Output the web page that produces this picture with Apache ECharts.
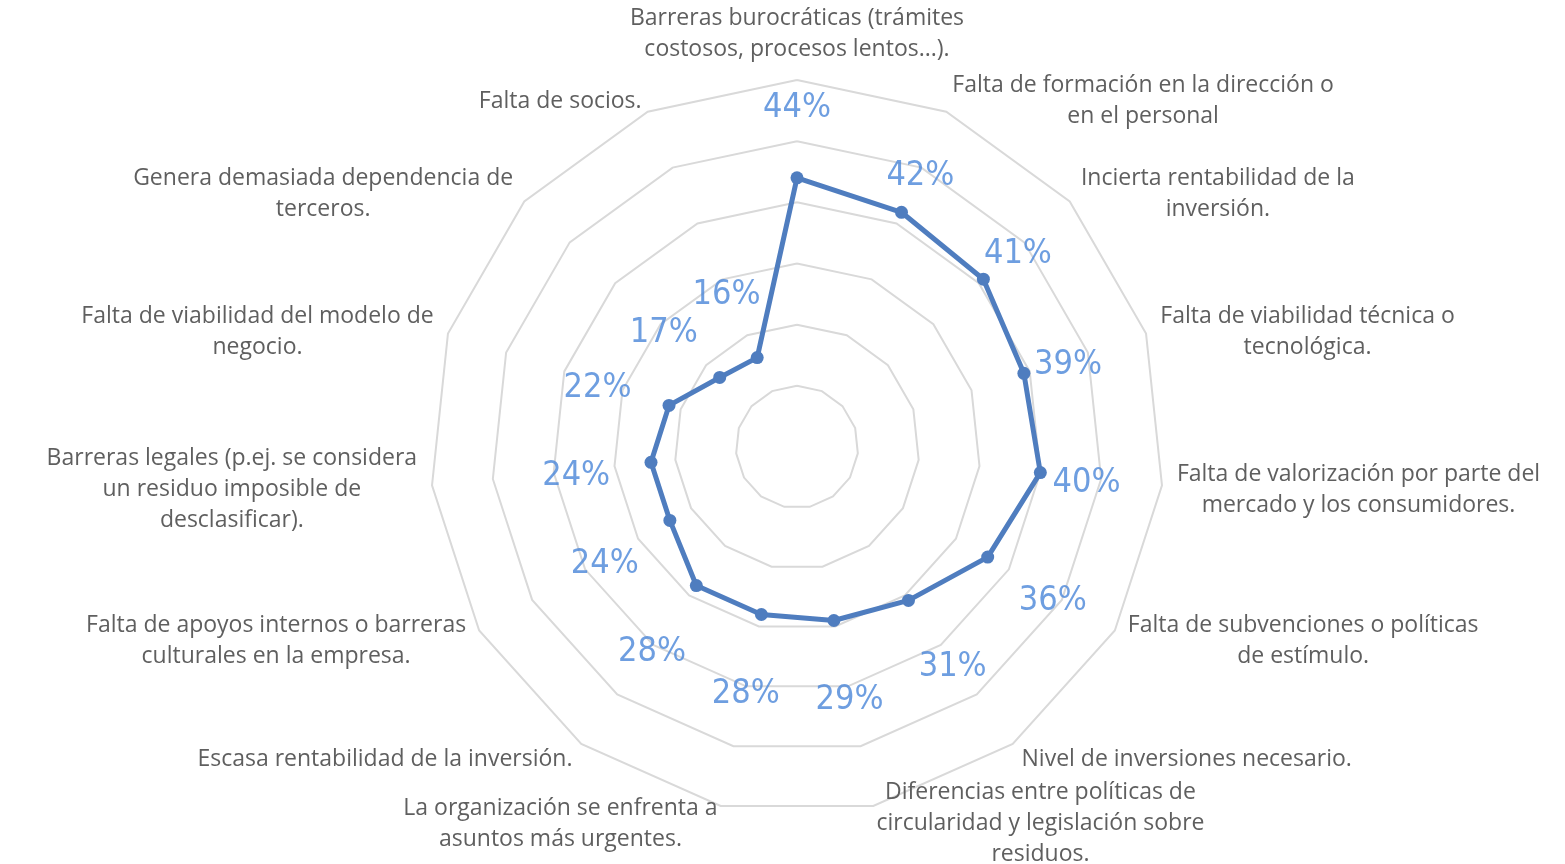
<!DOCTYPE html>
<html>
<head>
<meta charset="utf-8">
<script src="https://cdn.jsdelivr.net/npm/echarts@6/dist/echarts.min.js"></script>
<style>
  html, body { margin: 0; padding: 0; background: #fff; }
  #chart { width: 1565px; height: 864px; }
</style>
</head>
<body>
<div id="chart"></div>
<script>
// categories, clockwise from the top
var categories = [
  'Barreras burocráticas (trámites\ncostosos, procesos lentos...).',
  'Falta de formación en la dirección o\nen el personal',
  'Incierta rentabilidad de la\ninversión.',
  'Falta de viabilidad técnica o\ntecnológica.',
  'Falta de valorización por parte del\nmercado y los consumidores.',
  'Falta de subvenciones o políticas\nde estímulo.',
  'Nivel de inversiones necesario.',
  'Diferencias entre políticas de\ncircularidad y legislación sobre\nresiduos.',
  'La organización se enfrenta a\nasuntos más urgentes.',
  'Escasa rentabilidad de la inversión.',
  'Falta de apoyos internos o barreras\nculturales en la empresa.',
  'Barreras legales (p.ej. se considera\nun residuo imposible de\ndesclasificar).',
  'Falta de viabilidad del modelo de\nnegocio.',
  'Genera demasiada dependencia de\nterceros.',
  'Falta de socios.'
];
var values = [0.44, 0.42, 0.41, 0.39, 0.40, 0.36, 0.31, 0.29, 0.28, 0.28, 0.24, 0.24, 0.22, 0.17, 0.16];
var maxValue = 0.6;

var CENTER = [797, 447];
var RADIUS = 367;
var lineColor = '#4F7DBF';
var labelColor = '#4A86D8';
var nameColor = '#5F5F5F';

// echarts lays radar indicators counterclockwise, so flip the order (first stays on top)
var order = [0];
for (var k = categories.length - 1; k > 0; k--) order.push(k);

var chart = echarts.init(document.getElementById('chart'));

// radial gap between point and its value label (right side labels sit closer)
function labelGap(i) {
  return (i >= 1 && i <= 4) ? 0.076 : 0.123;
}

chart.setOption({
  animation: false,
  radar: {
    center: CENTER,
    radius: RADIUS,
    startAngle: 90,
    splitNumber: 6,
    shape: 'polygon',
    nameGap: 15,
    indicator: order.map(function (i) {
      return { name: categories[i], min: 0, max: maxValue };
    }),
    axisName: {
      color: nameColor,
      fontSize: 23,
      lineHeight: 31,
      fontFamily: 'Open Sans',
      padding: [6, 0, 0, 0],
      // each line centred inside the label block
      formatter: function (name) {
        return name.split('\n').map(function (s) { return '{c|' + s + '}'; }).join('\n');
      },
      rich: {
        c: { align: 'center', color: nameColor, fontSize: 23, lineHeight: 31, fontFamily: 'Open Sans' }
      }
    },
    splitLine: { lineStyle: { color: '#D9D9D9', width: 2 } },
    splitArea: { show: false },
    axisLine: { show: false },
    axisTick: { show: false },
    axisLabel: { show: false }
  },
  polar: { center: CENTER, radius: RADIUS },
  angleAxis: { type: 'value', min: 0, max: categories.length, startAngle: 90, clockwise: true, show: false },
  radiusAxis: { type: 'value', min: 0, max: maxValue, show: false },
  series: [
    {
      type: 'radar',
      symbol: 'circle',
      symbolSize: 13,
      lineStyle: { color: lineColor, width: 5 },
      itemStyle: { color: lineColor },
      data: [{ value: order.map(function (i) { return values[i]; }) }]
    },
    {
      // value labels
      type: 'scatter',
      coordinateSystem: 'polar',
      symbolSize: 0,
      silent: true,
      data: values.map(function (v, i) { return [v + labelGap(i), i]; }),
      label: {
        show: true,
        position: 'inside',
        offset: [0, 6],
        color: labelColor,
        fontSize: 34,
        fontFamily: 'DejaVu Sans Condensed',
        formatter: function (p) {
          return Math.round(values[p.dataIndex] * 100) + '%';
        }
      }
    }
  ]
});
</script>
</body>
</html>
